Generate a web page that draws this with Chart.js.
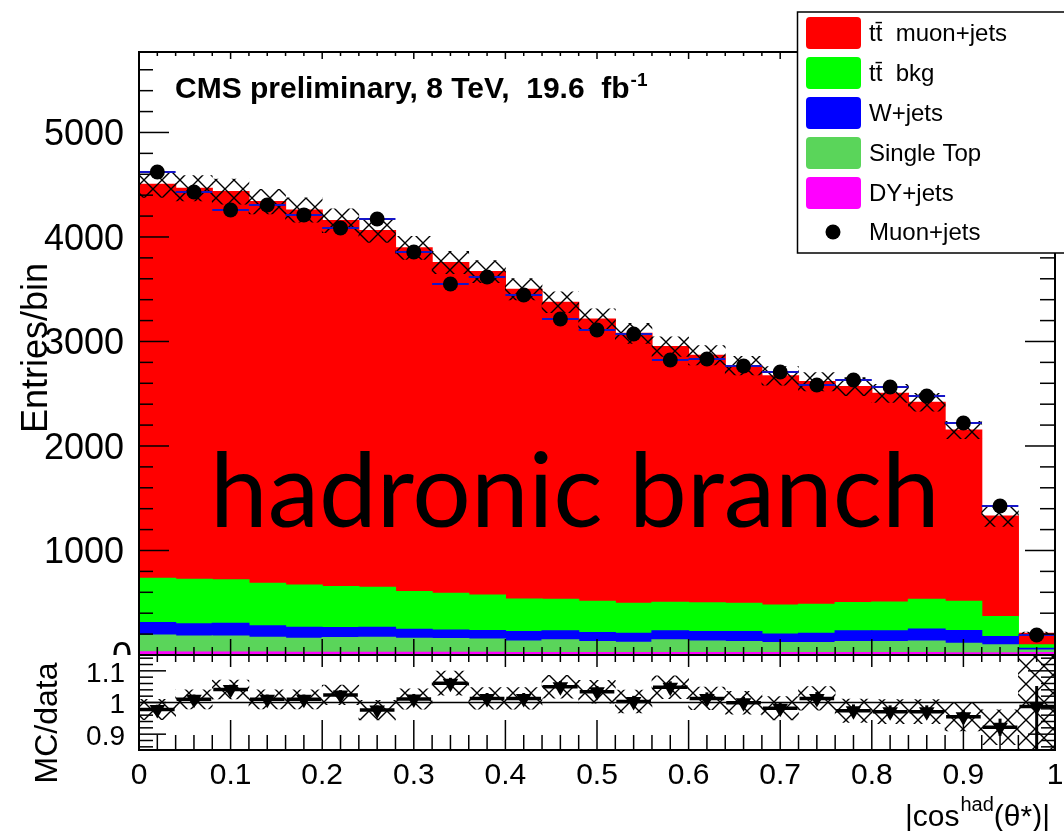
<!DOCTYPE html>
<html>
<head>
<meta charset="utf-8">
<script src="https://cdn.jsdelivr.net/npm/chart.js@4.4.1/dist/chart.umd.min.js"></script>
<style>
  html, body { margin: 0; padding: 0; background: #fff; }
  #wrap { width: 1064px; height: 831px; position: relative; }
</style>
</head>
<body>
<div id="wrap"><canvas id="c" width="1064" height="831"></canvas></div>
<script>
// ---------------- data ----------------
const binCenters = [0.02,0.06,0.10,0.14,0.18,0.22,0.26,0.30,0.34,0.38,0.42,0.46,0.50,
                    0.54,0.58,0.62,0.66,0.70,0.74,0.78,0.82,0.86,0.90,0.94,0.98];
const binHalfWidth = 0.02;

const dataMuonJets = [4622,4431,4258,4306,4211,4086,4172,3856,3550,3617,3445,3215,3110,
                      3072,2823,2833,2766,2708,2584,2632,2565,2478,2220,1426,191];
const ttMuonJets  = [3770,3742,3716,3652,3588,3502,3413,3289,3165,3094,2964,2842,2702,
                      2584,2446,2370,2275,2192,2130,2067,1997,1885,1639,963,111];
const ttBkg       = [425,427,415,408,405,392,382,360,351,341,313,303,298,
                      287,274,275,271,277,278,271,277,284,281,192,32];
const wJets       = [118,115,121,109,106,96,96,87,83,80,89,86,87,
                      86,86,89,95,83,89,102,102,115,121,79,16];
const singleTop   = [161,154,154,142,133,140,143,134,131,128,110,120,105,
                      98,121,112,106,96,96,106,106,112,91,76,26];
const dyJets      = [30,28,28,27,26,26,26,25,25,25,24,24,23,
                      23,23,22,22,22,22,22,22,22,21,20,22];
const mcErr       = [125,122,120,118,116,114,112,110,107,105,102,100,98,
                      96,94,92,90,89,88,87,86,85,84,100,12];

const ratioMCData = [0.978,1.010,1.041,1.010,1.010,1.024,0.976,1.011,1.061,1.013,1.013,1.050,1.034,
                     1.003,1.048,1.013,0.999,0.982,1.013,0.974,0.971,0.971,0.955,0.922,0.987];
const ratioBandErr = [0.032,0.030,0.030,0.030,0.030,0.031,0.031,0.032,0.038,0.034,0.034,0.036,0.036,
                      0.036,0.036,0.036,0.036,0.037,0.037,0.037,0.038,0.038,0.045,0.055,0.300];
const ratioErrUp = [0.015,0.015,0.015,0.015,0.015,0.015,0.015,0.016,0.017,0.017,0.017,0.018,0.018,
                    0.018,0.019,0.019,0.019,0.019,0.020,0.020,0.020,0.020,0.021,0.027,0.065];
const ratioErrDn = [0.015,0.015,0.015,0.015,0.015,0.015,0.015,0.016,0.017,0.017,0.017,0.018,0.018,
                    0.018,0.019,0.019,0.019,0.019,0.020,0.020,0.020,0.020,0.021,0.027,0.200];

const xTickValues = [0,0.1,0.2,0.3,0.4,0.5,0.6,0.7,0.8,0.9,1];
const yTickValues = [1000,2000,3000,4000,5000];
const ratioTickValues = [0.9,1,1.1];

const legendLabels = ['tt\u0304  muon+jets','tt\u0304  bkg','W+jets','Single Top','DY+jets','Muon+jets'];
const colors = { sig:'#ff0000', bkg:'#00ff00', w:'#0000ff', st:'#5ad55a', dy:'#ff00ff' };

// ---------------- helpers ----------------
function makeHatch(){
  const c = document.createElement('canvas'); c.width = 18; c.height = 18;
  const g = c.getContext('2d');
  g.strokeStyle = '#000'; g.lineWidth = 1.4;
  g.beginPath();
  g.moveTo(-3,-3); g.lineTo(21,21);
  g.moveTo(21,-3); g.lineTo(-3,21);
  g.stroke();
  return g.createPattern(c,'repeat');
}
const hatch = makeHatch();
const mcTotal = binCenters.map((_,i)=>ttMuonJets[i]+ttBkg[i]+wJets[i]+singleTop[i]+dyJets[i]);
const pts = (arr)=>binCenters.map((x,i)=>({x, y:arr[i]}));
const FONT = '"Liberation Sans", Arial, Helvetica, sans-serif';

const barCommon = { type:'bar', xAxisID:'x', yAxisID:'y', stack:'mc', grouped:false,
                    barPercentage:1, categoryPercentage:1, borderWidth:0, inflateAmount:0.6 };

// ---------------- plugin for ROOT-like decorations ----------------
const rootStyle = {
  id:'rootStyle',
  beforeDraw(chart){
    const c = chart.ctx; c.save(); c.fillStyle = '#fff'; c.fillRect(0,0,chart.width,chart.height); c.restore();
  },
  afterDatasetDraw(chart, args){
    const c = chart.ctx, x = chart.scales.x, y = chart.scales.y, yr = chart.scales.yr;
    if (args.index === 3) {
      c.save();
      c.strokeStyle = '#000'; c.lineWidth = 1.5;
      const p1 = yr.getPixelForValue(1);
      c.beginPath(); c.moveTo(chart.chartArea.left, p1); c.lineTo(chart.chartArea.right, p1); c.stroke();
      c.lineWidth = 3.5;
      binCenters.forEach((bc,i)=>{
        const py = yr.getPixelForValue(ratioMCData[i]);
        c.beginPath();
        c.moveTo(x.getPixelForValue(bc-binHalfWidth)+1, py);
        c.lineTo(x.getPixelForValue(bc+binHalfWidth)-1, py);
        c.stroke();
      });
      c.lineWidth = 3;
      c.beginPath();
      c.rect(chart.chartArea.left, yr.top, chart.chartArea.right-chart.chartArea.left, yr.bottom-yr.top);
      c.clip();
      binCenters.forEach((bc,i)=>{
        const px = x.getPixelForValue(bc);
        c.beginPath();
        c.moveTo(px, yr.getPixelForValue(ratioMCData[i]+ratioErrUp[i]));
        c.lineTo(px, yr.getPixelForValue(ratioMCData[i]-ratioErrDn[i]));
        c.stroke();
      });
      c.restore();
    }
    if (args.index === 2) {
      c.save();
      c.strokeStyle = '#1515c8'; c.lineWidth = 2;
      binCenters.forEach((bc,i)=>{
        const py = y.getPixelForValue(dataMuonJets[i]);
        c.beginPath();
        c.moveTo(x.getPixelForValue(bc-binHalfWidth), py);
        c.lineTo(x.getPixelForValue(bc+binHalfWidth), py);
        c.stroke();
      });
      c.restore();
    }
  },
  afterDraw(chart){
    const c = chart.ctx, a = chart.chartArea;
    const x = chart.scales.x, y = chart.scales.y, yr = chart.scales.yr;
    const L = a.left, R = a.right, T = a.top, B = a.bottom, M = y.bottom;
    c.save();
    c.strokeStyle = '#000';
    const ln = (x1,y1,x2,y2)=>{ c.beginPath(); c.moveTo(x1,y1); c.lineTo(x2,y2); c.stroke(); };
    // frame
    c.lineWidth = 2;
    c.strokeRect(L, T, R-L, B-T);
    ln(L, M, R, M);
    // x ticks
    c.lineWidth = 1.5;
    for (let k=0;k<=50;k++){
      const px = x.getPixelForValue(k*0.02), maj = k%5===0;
      ln(px, T, px, T+(maj?7:4));
      ln(px, M, px, M-(maj?16:8));
      ln(px, M, px, M+(maj?12:7));
      ln(px, B, px, B-(maj?30:15));
    }
    // main y ticks
    for (let v=0; v<=y.max; v+=200){
      const py = y.getPixelForValue(v), maj = v%1000===0;
      ln(L, py, L+(maj?30:14), py);
      ln(R, py, R-(maj?30:15), py);
    }
    // ratio y ticks
    for (let k=43; k<=57; k++){
      const py = yr.getPixelForValue(k*0.02), maj = k%5===0;
      ln(L, py, L+(maj?27:14), py);
      ln(R, py, R-(maj?27:14), py);
    }
    // clipped "0" label of the main pad
    c.save();
    c.beginPath(); c.rect(0, 0, L-1, M); c.clip();
    c.fillStyle = '#000'; c.font = '36px '+FONT; c.textAlign = 'right'; c.textBaseline = 'middle';
    c.fillText('0', L-7, y.getPixelForValue(0)+3);
    c.restore();

    c.fillStyle = '#000';
    // axis titles
    c.save();
    c.translate(37, 348); c.rotate(-Math.PI/2);
    c.font = '36px '+FONT; c.textAlign = 'center'; c.textBaseline = 'middle';
    c.fillText('Entries/bin', 0, 0);
    c.restore();
    c.save();
    c.translate(48, 723); c.rotate(-Math.PI/2);
    c.font = '32px '+FONT; c.textAlign = 'center'; c.textBaseline = 'middle';
    c.fillText('MC/data', 0, 0);
    c.restore();
    // x title |cos^had(θ*)|
    c.textAlign = 'left'; c.textBaseline = 'alphabetic';
    let tx = 905;
    c.font = '30px '+FONT; c.fillText('|cos', tx, 826); tx += c.measureText('|cos').width;
    c.font = '20px '+FONT; c.fillText('had', tx+1, 811); tx += c.measureText('had').width + 1;
    c.font = '30px '+FONT; c.fillText('(\u03b8*)|', tx, 826);

    // CMS label
    let cx = 175;
    c.font = 'bold 30px '+FONT;
    const cms = 'CMS preliminary, 8 TeV,  19.6  fb';
    c.fillText(cms, cx, 98); cx += c.measureText(cms).width;
    c.font = 'bold 19px '+FONT; c.fillText('-1', cx+1, 86);

    // big text
    const big = 'hadronic branch';
    c.font = '100px Lato, "Open Sans", sans-serif';
    const w = c.measureText(big).width;
    const fs = 100*730/w;
    c.font = fs.toFixed(1)+'px Lato, "Open Sans", sans-serif';
    c.fillText(big, 210, 527);

    // legend
    c.fillStyle = '#fff';
    c.fillRect(797, 12, 280, 241);
    c.lineWidth = 1.5; c.strokeStyle = '#000';
    c.strokeRect(797.5, 12, 280, 241);
    const rowY = [33,73,113,153,193,232];
    const boxCols = [colors.sig, colors.bkg, colors.w, colors.st, colors.dy];
    boxCols.forEach((col,i)=>{
      c.fillStyle = col;
      c.beginPath(); c.roundRect(806, rowY[i]-16, 55, 32, 4); c.fill();
    });
    c.fillStyle = '#000';
    c.beginPath(); c.arc(833, rowY[5], 7.5, 0, Math.PI*2); c.fill();
    c.font = '24px '+FONT; c.textAlign = 'left'; c.textBaseline = 'middle';
    legendLabels.forEach((t,i)=> c.fillText(t, 869, rowY[i]+1));
    c.restore();
  }
};

// ---------------- chart ----------------
new Chart(document.getElementById('c'), {
  type: 'bar',
  data: {
    datasets: [
      { type:'line', label:'Muon+jets', xAxisID:'x', yAxisID:'y', data: pts(dataMuonJets),
        showLine:false, pointRadius:7.5, pointHoverRadius:7.5, pointBorderWidth:0,
        pointBackgroundColor:'#000', pointBorderColor:'#000', clip:false },
      { type:'line', label:'MC/data', xAxisID:'x', yAxisID:'yr', data: pts(ratioMCData),
        showLine:false, pointStyle:'triangle', pointRotation:180, pointRadius:9, pointHoverRadius:9,
        pointBorderWidth:0, pointBackgroundColor:'#000', pointBorderColor:'#000' },
      { type:'bar', label:'MC uncertainty', xAxisID:'x', yAxisID:'y', stack:'band', grouped:false,
        barPercentage:1, categoryPercentage:1, borderWidth:0, backgroundColor: hatch,
        data: binCenters.map((x,i)=>({x, y:[mcTotal[i]-mcErr[i], mcTotal[i]+mcErr[i]]})) },
      { type:'bar', label:'MC/data uncertainty', xAxisID:'x', yAxisID:'yr', grouped:false,
        barPercentage:1, categoryPercentage:1, borderWidth:0, backgroundColor: hatch,
        data: binCenters.map((x,i)=>({x, y:[ratioMCData[i]-ratioBandErr[i], ratioMCData[i]+ratioBandErr[i]]})) },
      { ...barCommon, label:'DY+jets',      data: pts(dyJets),      backgroundColor: colors.dy },
      { ...barCommon, label:'Single Top',   data: pts(singleTop),   backgroundColor: colors.st },
      { ...barCommon, label:'W+jets',       data: pts(wJets),       backgroundColor: colors.w },
      { ...barCommon, label:'tt bkg',       data: pts(ttBkg),       backgroundColor: colors.bkg },
      { ...barCommon, label:'tt muon+jets', data: pts(ttMuonJets),  backgroundColor: colors.sig }
    ]
  },
  options: {
    responsive:false, animation:false, devicePixelRatio:1, events:[],
    layout: { padding: { top:52, right:8, left:0, bottom:0 } },
    plugins: { legend:{ display:false }, tooltip:{ enabled:false } },
    scales: {
      x: {
        type:'linear', position:'bottom', min:0, max:1, offset:false,
        grid:{ display:false }, border:{ display:false },
        ticks:{ color:'#000', font:{ family:FONT, size:30 }, padding:0, autoSkip:false, maxRotation:0,
                callback:(v)=>String(Math.round(v*10)/10) },
        afterBuildTicks:(s)=>{ s.ticks = xTickValues.map(v=>({value:v})); },
        afterFit:(s)=>{ s.height = 81; s.paddingLeft = 0; s.paddingRight = 0; }
      },
      yr: {
        type:'linear', position:'left', stack:'pads', stackWeight:95, min:0.85, max:1.15, offset:false,
        grid:{ display:false }, border:{ display:false },
        ticks:{ color:'#000', font:{ family:FONT, size:28 }, padding:6, autoSkip:false, labelOffset:3,
                callback:(v)=>String(Math.round(v*100)/100) },
        afterBuildTicks:(s)=>{ s.ticks = ratioTickValues.map(v=>({value:v})); },
        afterFit:(s)=>{ s.width = 139; s.paddingTop = 0; s.paddingBottom = 0; }
      },
      y: {
        type:'linear', position:'left', stack:'pads', stackWeight:603, stacked:true, min:0, max:5770,
        grid:{ display:false }, border:{ display:false },
        ticks:{ color:'#000', font:{ family:FONT, size:36 }, padding:7, autoSkip:false, labelOffset:3,
                callback:(v)=>String(v) },
        afterBuildTicks:(s)=>{ s.ticks = yTickValues.map(v=>({value:v})); },
        afterFit:(s)=>{ s.width = 139; s.paddingTop = 0; s.paddingBottom = 0; }
      }
    }
  },
  plugins:[rootStyle]
});
</script>
</body>
</html>
